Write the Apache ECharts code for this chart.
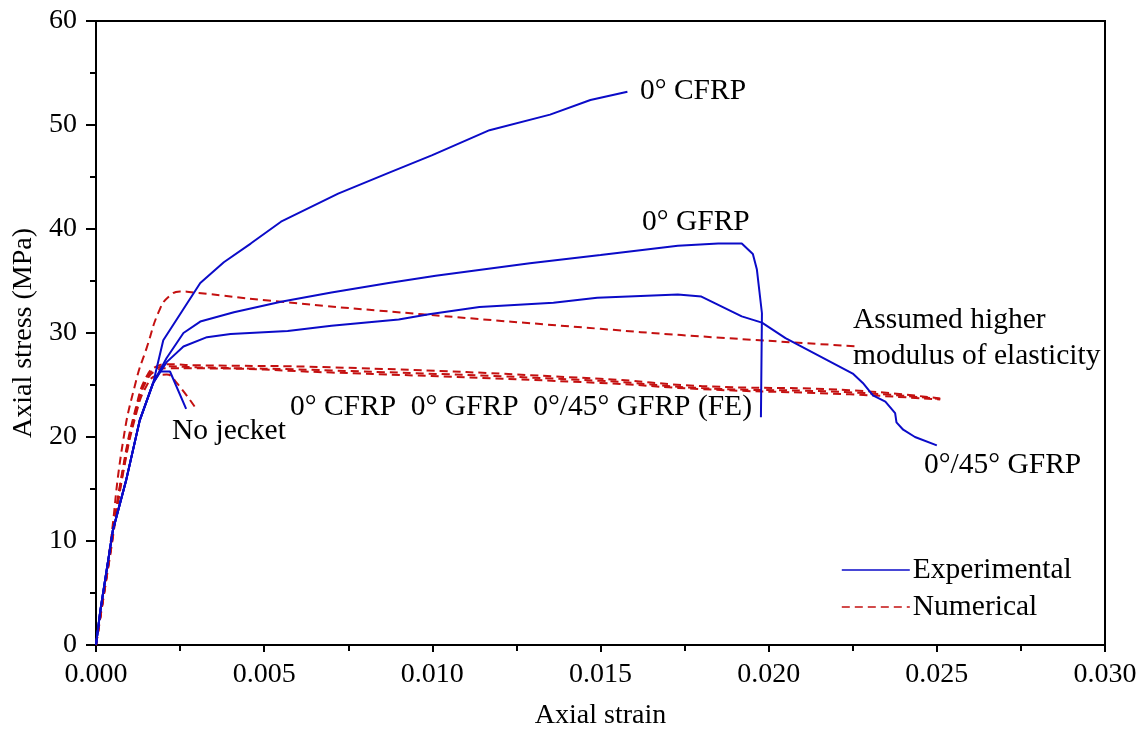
<!DOCTYPE html>
<html>
<head>
<meta charset="utf-8">
<script src="https://cdn.jsdelivr.net/npm/echarts@6/dist/echarts.min.js"></script>
<style>
html,body{margin:0;padding:0;background:#fff;}
#c{width:1146px;height:732px;}
</style>
</head>
<body>
<div id="c"></div>
<script>
// ---- Data ----
const xTicks = [0, 0.005, 0.010, 0.015, 0.020, 0.025, 0.030];
const yTicks = [0, 10, 20, 30, 40, 50, 60];

// Experimental curves
const exp0CFRP_x = [0, 0.00012, 0.0005, 0.0009, 0.0013, 0.0017, 0.0020, 0.0031, 0.0038, 0.0046, 0.0055, 0.0072, 0.0087, 0.0100, 0.0117, 0.0135, 0.0147, 0.0158];
const exp0CFRP_y = [0, 3.1, 11.0, 15.9, 21.6, 25.2, 29.3, 34.8, 36.8, 38.6, 40.7, 43.4, 45.4, 47.1, 49.5, 51.0, 52.4, 53.2];

const exp0GFRP_x = [0, 0.00012, 0.0005, 0.0009, 0.0013, 0.0017, 0.0021, 0.0026, 0.0031, 0.0041, 0.0055, 0.0070, 0.0087, 0.0101, 0.0129, 0.0150, 0.0173, 0.0185, 0.0192, 0.01953, 0.01965, 0.0198, 0.01977];
const exp0GFRP_y = [0, 3.1, 11.0, 15.9, 21.6, 25.2, 27.6, 30.0, 31.1, 32.0, 33.0, 33.9, 34.8, 35.5, 36.7, 37.5, 38.4, 38.6, 38.6, 37.6, 36.1, 31.9, 21.9];

const exp045GFRP_x = [0, 0.00012, 0.0005, 0.0009, 0.0013, 0.0017, 0.0021, 0.0026, 0.0033, 0.0040, 0.0057, 0.0070, 0.0090, 0.0099, 0.0114, 0.0136, 0.0149, 0.0173, 0.0180, 0.0192, 0.0198, 0.0205, 0.0225, 0.0228, 0.0231, 0.02347, 0.02376, 0.0238, 0.0240, 0.02435, 0.0250];
const exp045GFRP_y = [0, 3.1, 11.0, 15.9, 21.6, 25.2, 27.2, 28.7, 29.6, 29.9, 30.2, 30.7, 31.3, 31.8, 32.5, 32.9, 33.4, 33.7, 33.5, 31.6, 31.0, 29.5, 26.1, 25.2, 24.0, 23.4, 22.3, 21.4, 20.7, 20.0, 19.2];

const expNoJacket_x = [0, 0.00012, 0.0005, 0.0009, 0.0013, 0.0017, 0.0019, 0.0022, 0.00268];
const expNoJacket_y = [0, 3.1, 11.0, 15.9, 21.6, 25.2, 26.3, 26.3, 22.7];

// Numerical curves
const feHigh_x = [0, 0.0004, 0.0008, 0.0012, 0.0015, 0.0019, 0.0022, 0.0025, 0.0029, 0.0055, 0.0097, 0.0150, 0.0174, 0.0227];
const feHigh_y = [0, 9.0, 19.5, 25.5, 28.5, 32.3, 33.6, 34.0, 33.9, 33.0, 31.8, 30.4, 29.8, 28.7];

const fe_x = [0, 0.0004, 0.0008, 0.0012, 0.0015, 0.0018, 0.0021, 0.0030, 0.0070, 0.0150, 0.0180, 0.0224, 0.0251];
const fe0CFRP_y = [0, 8.5, 17.0, 23.0, 25.8, 26.8, 27.0, 26.9, 26.7, 25.6, 24.9, 24.5, 23.7];
const fe0GFRP_y = [0, 8.4, 16.8, 22.8, 25.6, 26.6, 26.8, 26.7, 26.4, 25.4, 24.7, 24.3, 23.65];
const fe045GFRP_y = [0, 8.3, 16.6, 22.6, 25.4, 26.4, 26.6, 26.6, 26.2, 25.2, 24.6, 24.1, 23.6];

const feNoJacket_x = [0, 0.0004, 0.0008, 0.0012, 0.0015, 0.0018, 0.0021, 0.0024, 0.0030];
const feNoJacket_y = [0, 8.2, 16.4, 22.3, 24.9, 25.9, 26.0, 25.2, 22.6];

// ---- Build chart ----
const BLUE = '#0b0bc8';
const RED = '#c41010';
const FONT = '"Liberation Serif", "Times New Roman", serif';
const zip = (xs, ys) => xs.map((x, i) => [x, ys[i]]);

function expSeries(xs, ys) {
  return { name: 'Experimental', type: 'line', data: zip(xs, ys), symbol: 'none', showSymbol: false, smooth: false,
    lineStyle: { color: BLUE, width: 2 }, itemStyle: { color: BLUE }, z: 3 };
}
function feSeries(xs, ys) {
  return { name: 'Numerical', type: 'line', data: zip(xs, ys), symbol: 'none', showSymbol: false, smooth: true,
    lineStyle: { color: RED, width: 2, type: [8, 5] }, itemStyle: { color: RED }, z: 2 };
}

const chart = echarts.init(document.getElementById('c'), null, { renderer: 'canvas' });

const txt = (text, left, top) => ({
  type: 'text', left: left, top: top,
  style: { text: text, font: '29.5px ' + FONT, fill: '#000' }
});

chart.setOption({
  animation: false,
  backgroundColor: '#fff',
  grid: { left: 96, right: 41, top: 21, bottom: 87, show: true, borderColor: '#000', borderWidth: 2,
    backgroundColor: 'transparent', outerBoundsMode: 'none', containLabel: false },
  xAxis: {
    type: 'value', min: xTicks[0], max: xTicks[xTicks.length - 1], interval: 0.005,
    name: 'Axial strain', nameLocation: 'middle', nameGap: 57,
    nameTextStyle: { fontFamily: FONT, fontSize: 28, color: '#000' },
    axisLine: { lineStyle: { color: '#000', width: 2 } },
    axisTick: { inside: false, length: 7, lineStyle: { color: '#000', width: 2 } },
    minorTick: { show: true, splitNumber: 2, length: 6, lineStyle: { color: '#000', width: 2 } },
    splitLine: { show: false },
    axisLabel: { fontFamily: FONT, fontSize: 28, color: '#000', margin: 16,
      formatter: v => v.toFixed(3) }
  },
  yAxis: {
    type: 'value', min: yTicks[0], max: yTicks[yTicks.length - 1], interval: 10,
    name: 'Axial stress (MPa)', nameLocation: 'middle', nameGap: 58,
    nameTextStyle: { fontFamily: FONT, fontSize: 28, color: '#000' },
    axisLine: { lineStyle: { color: '#000', width: 2 } },
    axisTick: { inside: false, length: 10, lineStyle: { color: '#000', width: 2 } },
    minorTick: { show: true, splitNumber: 2, length: 6, lineStyle: { color: '#000', width: 2 } },
    splitLine: { show: false },
    axisLabel: { fontFamily: FONT, fontSize: 28, color: '#000', margin: 19 }
  },
  legend: {
    orient: 'vertical', left: 836, top: 550, itemWidth: 68, itemHeight: 14, itemGap: 7,
    data: ['Experimental', 'Numerical'],
    textStyle: { fontFamily: FONT, fontSize: 29.5, color: '#000', padding: [0, 0, 0, -2] },
    itemStyle: { opacity: 0 },
    lineStyle: { width: 1.6 }
  },
  series: [
    expSeries(exp0CFRP_x, exp0CFRP_y),
    expSeries(exp0GFRP_x, exp0GFRP_y),
    expSeries(exp045GFRP_x, exp045GFRP_y),
    expSeries(expNoJacket_x, expNoJacket_y),
    feSeries(feHigh_x, feHigh_y),
    feSeries(fe_x, fe0CFRP_y),
    feSeries(fe_x, fe0GFRP_y),
    feSeries(fe_x, fe045GFRP_y),
    feSeries(feNoJacket_x, feNoJacket_y)
  ],
  graphic: [
    txt('0° CFRP', 640, 76),
    txt('0° GFRP', 642, 207),
    txt('Assumed higher', 853, 305),
    txt('modulus of elasticity', 853, 341),
    txt('0° CFRP  0° GFRP  0°/45° GFRP (FE)', 290, 392),
    txt('No jecket', 172, 416),
    txt('0°/45° GFRP', 924, 450)
  ]
});
</script>
</body>
</html>
